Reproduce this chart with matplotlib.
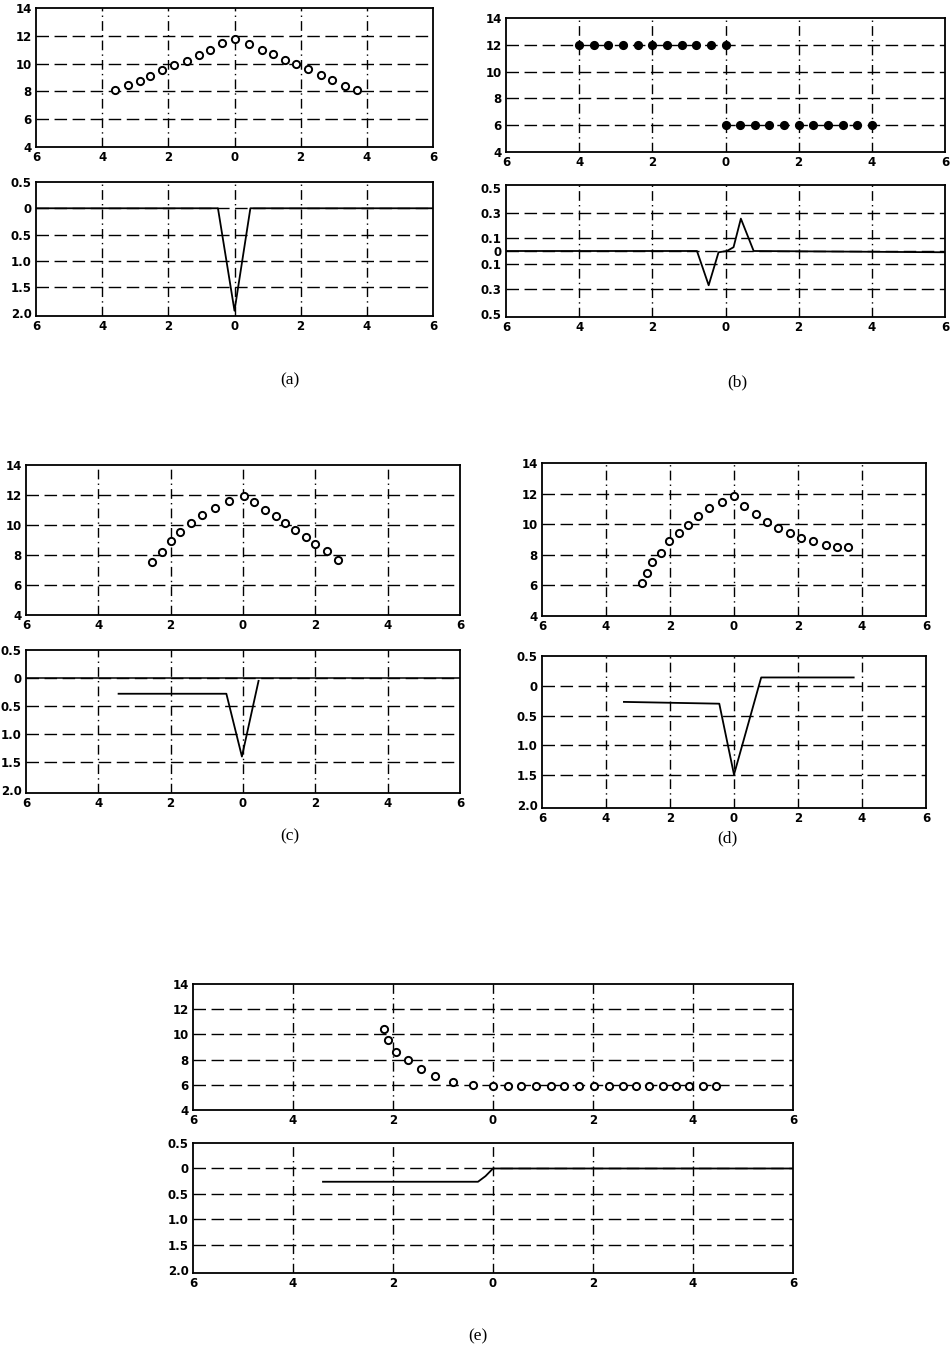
import matplotlib
matplotlib.use("Agg")
import matplotlib.pyplot as plt

W, H = 952, 1356

# shared ticks (minus signs are missing in the scanned original)
x_ticks = [-6, -4, -2, 0, 2, 4, 6]
x_labels = ["6", "4", "2", "0", "2", "4", "6"]
top_yticks = [4, 6, 8, 10, 12, 14]
top_ylabels = ["4", "6", "8", "10", "12", "14"]
bot_yticks = [0.5, 0, -0.5, -1.0, -1.5, -2.0]
bot_ylabels = ["0.5", "0", "0.5", "1.0", "1.5", "2.0"]
b_bot_yticks = [0.5, 0.3, 0.1, 0, -0.1, -0.3, -0.5]
b_bot_ylabels = ["0.5", "0.3", "0.1", "0", "0.1", "0.3", "0.5"]

# (a)
a_px = [-3.60, -3.22, -2.86, -2.54, -2.18, -1.83, -1.45, -1.08, -0.73, -0.39, 0.0,
        0.44, 0.82, 1.17, 1.52, 1.87, 2.23, 2.60, 2.96, 3.33, 3.69]
a_py = [8.07, 8.43, 8.75, 9.13, 9.54, 9.88, 10.19, 10.60, 11.01, 11.45, 11.76,
        11.40, 11.01, 10.67, 10.27, 9.95, 9.59, 9.18, 8.80, 8.41, 8.10]
a_lx = [-6, -0.5, 0.0, 0.48, 6]
a_ly = [0, 0, -1.95, 0, 0]

# (b)
b_px = [-4.0, -3.6, -3.2, -2.8, -2.4, -2.0, -1.6, -1.2, -0.8, -0.4, 0.0,
        0.0, 0.4, 0.8, 1.2, 1.6, 2.0, 2.4, 2.8, 3.2, 3.6, 4.0]
b_py = [12, 12, 12, 12, 12, 12, 12, 12, 12, 12, 12,
        6, 6, 6, 6, 6, 6, 6, 6, 6, 6, 6]
b_lx = [-6, -0.78, -0.46, -0.19, 0.04, 0.22, 0.42, 0.77, 6]
b_ly = [0, 0, -0.27, -0.01, 0.0, 0.03, 0.255, 0.0, -0.01]

# (c)
c_px = [-2.52, -2.25, -2.0, -1.74, -1.43, -1.12, -0.77, -0.40, 0.02,
        0.31, 0.62, 0.90, 1.15, 1.45, 1.73, 2.0, 2.31, 2.62]
c_py = [7.52, 8.21, 8.94, 9.52, 10.11, 10.67, 11.13, 11.61, 11.93,
        11.54, 11.01, 10.60, 10.16, 9.66, 9.20, 8.74, 8.28, 7.70]
c_lx = [-3.44, -0.46, -0.03, 0.43]
c_ly = [-0.28, -0.28, -1.40, -0.05]

# (d)
d_px = [-2.89, -2.73, -2.55, -2.27, -2.03, -1.71, -1.43, -1.12, -0.77, -0.39, 0.0,
        0.31, 0.69, 1.02, 1.39, 1.75, 2.09, 2.48, 2.88, 3.22, 3.55]
d_py = [6.15, 6.82, 7.51, 8.11, 8.87, 9.41, 9.95, 10.51, 11.03, 11.46, 11.87,
        11.18, 10.64, 10.14, 9.73, 9.41, 9.13, 8.91, 8.63, 8.48, 8.48]
d_lx = [-3.44, -0.46, 0.0, 0.85, 3.74]
d_ly = [-0.27, -0.30, -1.49, 0.14, 0.14]

# (e)
e_px = [-2.18, -2.10, -1.95, -1.70, -1.45, -1.15, -0.79, -0.39, 0.0, 0.30,
        0.57, 0.87, 1.17, 1.43, 1.73, 2.03, 2.33, 2.60, 2.87, 3.13, 3.40,
        3.67, 3.93, 4.20, 4.47]
e_py = [10.4, 9.55, 8.6, 7.95, 7.23, 6.67, 6.21, 5.95, 5.9, 5.9,
        5.9, 5.9, 5.9, 5.9, 5.9, 5.9, 5.9, 5.9, 5.9, 5.9, 5.9,
        5.9, 5.9, 5.9, 5.9]
e_lx = [-3.4, -0.3, -0.15, 0.0, 6]
e_ly = [-0.26, -0.26, -0.15, 0.0, 0.0]

captions = ["(a)", "(b)", "(c)", "(d)", "(e)"]

fig = plt.figure(figsize=(W / 100, H / 100), dpi=100)
DASH = (0, (9, 4))


def box(l, t, r, b):
    return fig.add_axes([l / W, 1 - b / H, (r - l) / W, (b - t) / H])


def style(ax, ylim, yticks, ylabels, grid_y):
    ax.set_xlim(-6, 6)
    ax.set_ylim(*ylim)
    ax.set_xticks(x_ticks)
    ax.set_xticklabels(x_labels)
    ax.set_yticks(yticks)
    ax.set_yticklabels(ylabels)
    ax.tick_params(length=0, pad=3, labelsize=8.5)
    for lab in ax.get_xticklabels() + ax.get_yticklabels():
        lab.set_fontweight("bold")
    for s in ax.spines.values():
        s.set_linewidth(1.3)
    for gx in [-4, -2, 0, 2, 4]:
        ax.axvline(gx, color="black", lw=1.0, ls=(0, (7, 3, 1, 3)), zorder=1)
    for gy in grid_y:
        ax.axhline(gy, color="black", lw=1.0, ls=DASH, zorder=1)


def pair(top_box, bot_box, px, py, lx, ly, bot_ticks, bot_labels, bot_lim, bot_grid,
         filled=False, zero_line=False):
    ax1 = box(*top_box)
    style(ax1, (4, 14), top_yticks, top_ylabels, [6, 8, 10, 12])
    ax1.plot(px, py, "o", ms=5.2, mew=1.4, mec="black",
             mfc="black" if filled else "white", zorder=3)
    ax2 = box(*bot_box)
    style(ax2, bot_lim, bot_ticks, bot_labels, bot_grid)
    if zero_line:
        ax2.axhline(0, color="black", lw=1.1, zorder=2)
    ax2.plot(lx, ly, color="black", lw=1.3, zorder=3)
    return ax1, ax2


pair((36, 8, 433, 147), (36, 182, 433, 316), a_px, a_py, a_lx, a_ly,
     bot_yticks, bot_ylabels, (-2.05, 0.5), [0, -0.5, -1.0, -1.5])
pair((506, 18, 945, 152), (506, 185, 945, 317), b_px, b_py, b_lx, b_ly,
     b_bot_yticks, b_bot_ylabels, (-0.52, 0.52), [0.3, 0.1, 0, -0.1, -0.3], filled=True)
pair((26, 465, 460, 615), (26, 650, 460, 793), c_px, c_py, c_lx, c_ly,
     bot_yticks, bot_ylabels, (-2.05, 0.5), [0, -0.5, -1.0, -1.5], zero_line=True)
pair((542, 463, 926, 616), (542, 656, 926, 808), d_px, d_py, d_lx, d_ly,
     bot_yticks, bot_ylabels, (-2.05, 0.5), [0, -0.5, -1.0, -1.5])
pair((193, 984, 793, 1110), (193, 1143, 793, 1273), e_px, e_py, e_lx, e_ly,
     bot_yticks, bot_ylabels, (-2.05, 0.5), [0, -0.5, -1.0, -1.5])

cap_pos = [(290, 380), (737, 382), (290, 836), (727, 838), (478, 1336)]
for (cx, cy), txt in zip(cap_pos, captions):
    fig.text(cx / W, 1 - cy / H, txt, ha="center", va="center",
             fontsize=12.5, family="Liberation Serif")

fig.savefig("out.png", dpi=100)
